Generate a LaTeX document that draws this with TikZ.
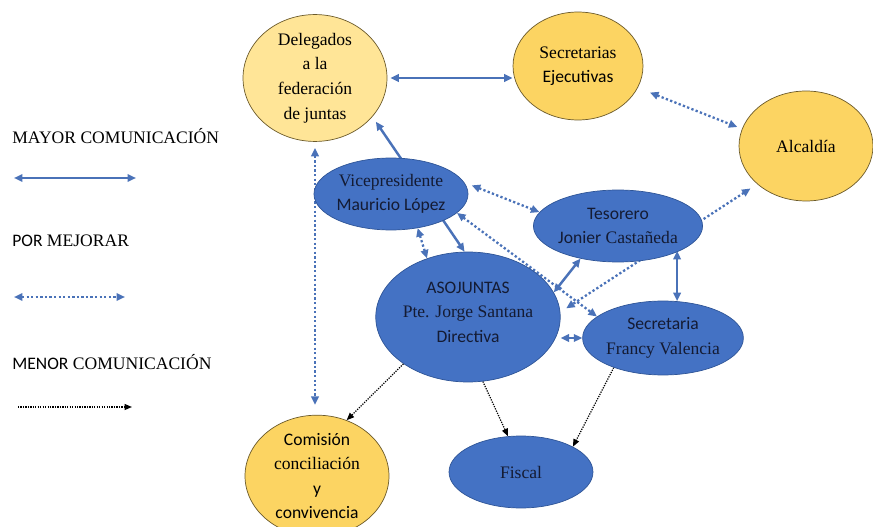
\documentclass[tikz,border=0pt]{standalone}
\usepackage{fontspec}
\setmainfont{Liberation Serif}
\setsansfont{Carlito}
\usepackage{tikz}
\usetikzlibrary{shapes.geometric, positioning, arrows.meta, backgrounds}

\definecolor{amarilloclaro}{HTML}{FFE597}
\definecolor{amarillo}{HTML}{FCD462}
\definecolor{bordeamarillo}{HTML}{6B5A2A}
\definecolor{azul}{HTML}{4472C4}
\definecolor{bordeazul}{HTML}{2F5597}
\definecolor{flecha}{HTML}{4A72B8}
\definecolor{tinta}{HTML}{141B33}

\begin{document}
\begin{tikzpicture}[
    x=0.02cm, y=-0.02cm,
    org/.style={draw, ellipse, inner sep=0pt, align=center, line width=0.4pt, font=\fontsize{10}{14}\selectfont},
    externo/.style={org, draw=bordeamarillo, fill=amarillo, text=black},
    interno/.style={org, draw=bordeazul, fill=azul, text=tinta},
    leyenda/.style={anchor=west, inner sep=0pt, font=\fontsize{10}{14}\selectfont},
    mayor/.style={draw=flecha, line width=1.4pt, {Triangle[length=1.7mm, width=1.5mm]}-{Triangle[length=1.7mm, width=1.5mm]}},
    mejorar/.style={draw=flecha, line width=1.3pt, dash pattern=on 1.3pt off 1.3pt, {Triangle[length=1.7mm, width=1.5mm]}-{Triangle[length=1.7mm, width=1.5mm]}},
    menor/.style={draw=black, line width=0.7pt, dash pattern=on 0.7pt off 0.7pt, -{Triangle[length=1.5mm, width=1.2mm]}}
]

\useasboundingbox (0,0) rectangle (873,527);

% leyenda
\node[leyenda] (txtMayor) at (12,136) {MAYOR COMUNICACIÓN};
\coordinate (mayorA) at (14,178);
\coordinate (mayorB) at (136,178);
\node[leyenda] (txtMejorar) at (12,241) {{\sffamily POR} MEJORAR};
\coordinate (mejorarA) at (14,297);
\coordinate (mejorarB) at (125,297);
\node[leyenda] (txtMenor) at (12,362) {{\sffamily MENOR} COMUNICACIÓN};
\coordinate (menorA) at (18,407);
\coordinate (menorB) at (132,407);

% organizaciones externas
\node[externo, fill=amarilloclaro, minimum width=2.88cm, minimum height=2.12cm] (delegados) at (315,78) {Delegados\\a la\\federación\\de juntas};
\node[externo, minimum width=2.6cm, minimum height=2.16cm] (secretarias) at (578,66) {Secretarias\\{\sffamily Ejecutivas}};
\node[externo, minimum width=2.68cm, minimum height=2.2cm] (alcaldia) at (806,146) {Alcaldía};
\node[externo, minimum width=2.88cm, minimum height=2.2cm] (comision) at (317,476) {{\sffamily Comisión}\\conciliación\\{\sffamily y}\\{\sffamily convivencia}};

% junta
\node[interno, minimum width=2.72cm, minimum height=1.44cm] (vice) at (391,194) {Vicepresidente\\{\sffamily Mauricio López}};
\node[interno, minimum width=2.84cm, minimum height=1.44cm] (tesorero) at (618,226) {{\sffamily Tesorero}\\{\sffamily Jonier} Castañeda};
\node[interno, minimum width=3.08cm, minimum height=2.6cm] (asojuntas) at (468,317) {{\sffamily ASOJUNTAS}\\Pte. Jorge Santana\\{\sffamily Directiva}\\[-0.3cm]};
\node[interno, minimum width=2.88cm, minimum height=1.48cm] (secretaria) at (663,338) {{\sffamily Secretaria}\\Francy Valencia};
\node[interno, minimum width=2.88cm, minimum height=1.44cm] (fiscal) at (521,472) {Fiscal};

\begin{scope}[on background layer]
% mayor comunicacion
\draw[mayor] (mayorA) -- (mayorB);
\draw[mayor, shorten <=0.06cm] (delegados.east) -- (delegados.east -| secretarias.west);
\draw[mayor, shorten >=0.12cm] (asojuntas.93) -- (delegados.-34);
\draw[mayor] (asojuntas.16) -- (tesorero.221);
\draw[mayor] (secretaria.69) -- (secretaria.69 |- tesorero.-22);
\draw[mayor] (secretaria.west) -- (secretaria.west -| asojuntas.east);
% por mejorar
\draw[mejorar] (mejorarA) -- (mejorarB);
\draw[mejorar, shorten <=0.12cm, shorten >=0.2cm] (delegados.south) -- (delegados.south |- comision.north);
\draw[mejorar, shorten <=0.26cm, shorten >=0.1cm] (secretarias.-20) -- (alcaldia.165);
\draw[mejorar, shorten <=0.16cm] (vice.9) -- (tesorero.170);
\draw[mejorar] (vice.-52) -- (asojuntas.125);
\draw[mejorar] (vice.-16) -- (secretaria.162);
\draw[mejorar, shorten <=0.16cm, shorten >=0.14cm] (alcaldia.218) -- (asojuntas.3);
% menor comunicacion
\draw[menor] (menorA) -- (menorB);
\draw[menor] (asojuntas.216) -- (comision.62);
\draw[menor] (asojuntas.-77) -- (fiscal.110);
\draw[menor] (secretaria.211) -- (fiscal.26);
\end{scope}

\end{tikzpicture}
\end{document}
